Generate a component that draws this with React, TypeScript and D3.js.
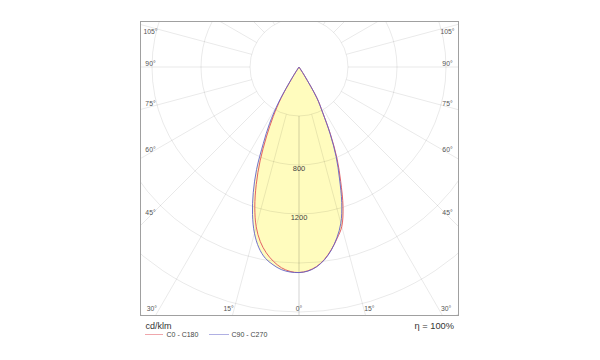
import React from "react";
import * as d3 from "d3";

// Gamma angles (degrees from nadir) and intensities (cd/klm)
const ANGLES = [0, 2.5, 5, 7.5, 10, 12.5, 15, 17.5, 20, 22.5, 25, 27.5, 30, 32.5, 35];
const C0 = [1678, 1665, 1636, 1585, 1515, 1435, 1349, 1195, 995, 814, 612, 418, 300, 80, 0];
const C180 = [1678, 1670, 1645, 1600, 1540, 1460, 1350, 1200, 1020, 830, 630, 455, 290, 70, 0];
const C90 = [1678, 1668, 1638, 1588, 1518, 1428, 1320, 1160, 965, 792, 600, 415, 290, 80, 0];
const C270 = [1678, 1675, 1660, 1628, 1585, 1512, 1405, 1262, 1092, 905, 690, 522, 330, 90, 0];

const RINGS = [400, 800, 1200, 1600, 2000, 2400];
const RING_LABELS = [800, 1200];
const SPOKES = d3.range(0, 181, 15);
const ANGLE_LABELS = [0, 15, 30, 45, 60, 75, 90, 105];

const W = 600;
const H = 360;
const FRAME = { x: 140.5, y: 21.5, w: 318, h: 294 };
const CX = 299;
const CY = 67;

const RED = "#e0505a";
const BLUE = "#6262c8";
const FILL = "#fffcbe";
const FONT = "'Liberation Sans', Arial, sans-serif";

const r = d3.scaleLinear().domain([0, 400]).range([0, 49]);
const rad = (deg: number) => (deg * Math.PI) / 180;

function curvePath(right: number[], left: number[]) {
  const pts: [number, number][] = [];
  for (let i = ANGLES.length - 1; i >= 0; i--) pts.push([Math.PI - rad(ANGLES[i]), r(right[i])]);
  for (let i = 1; i < ANGLES.length; i++) pts.push([Math.PI + rad(ANGLES[i]), r(left[i])]);
  const line = d3
    .lineRadial<[number, number]>()
    .angle((d) => d[0])
    .radius((d) => d[1])
    .curve(d3.curveCatmullRom.alpha(0.5));
  return line(pts) + "Z";
}

function labelPos(a: number, side: number): [number, number] {
  const halfW = 148.5;
  if (a <= 30) {
    const off = a === 0 ? 0 : Math.min(248 * Math.tan(rad(a)) + 4, halfW);
    return [CX + side * off, 309];
  }
  const y = Math.max(CY + halfW / Math.tan(rad(a)) - 3, 31.5);
  return [CX + side * halfW, y];
}

export default function App() {
  const redPath = curvePath(C0, C180);
  const bluePath = curvePath(C90, C270);
  const maxR = 400;
  return (
    <svg
      width={W}
      height={H}
      style={{ position: "absolute", left: 0, top: 0, background: "#fff" }}
      fontFamily={FONT}
    >
      <defs>
        <clipPath id="frameClip">
          <rect x={FRAME.x} y={FRAME.y} width={FRAME.w} height={FRAME.h} />
        </clipPath>
      </defs>
      <rect x={0} y={0} width={W} height={H} fill="#fff" />
      <g transform={`translate(${CX},${CY})`}>
        <path d={redPath} fill={FILL} stroke="none" />
        <path d={bluePath} fill={FILL} stroke="none" />
      </g>
      <g clipPath="url(#frameClip)" stroke="#000" strokeOpacity={0.11} strokeWidth={0.8} fill="none">
        {RINGS.map((v) => (
          <circle key={v} cx={CX} cy={CY} r={r(v)} />
        ))}
        {SPOKES.flatMap((a) =>
          [1, -1].map((s) => (
            <line
              key={`${a}_${s}`}
              x1={CX + s * r(400) * Math.sin(rad(a))}
              y1={CY + r(400) * Math.cos(rad(a))}
              x2={CX + s * maxR * Math.sin(rad(a))}
              y2={CY + maxR * Math.cos(rad(a))}
            />
          ))
        )}
      </g>
      <g transform={`translate(${CX},${CY})`} fill="none" strokeWidth={0.9}>
        <path d={redPath} stroke={RED} />
        <path d={bluePath} stroke={BLUE} />
      </g>
      {RING_LABELS.map((v) => (
        <text key={v} x={CX} y={CY + r(v) + 5.8} textAnchor="middle" fontSize={7.5} fill="#444">
          {v}
        </text>
      ))}
      {ANGLE_LABELS.flatMap((a) =>
        (a === 0 ? [1] : [-1, 1]).map((s) => {
          const [x, y] = labelPos(a, s);
          return (
            <text key={`${a}_${s}`} x={x} y={y} dy="0.35em" textAnchor="middle" fontSize={6.8} fill="#555">
              {`${a}°`}
            </text>
          );
        })
      )}
      <rect x={FRAME.x} y={FRAME.y} width={FRAME.w} height={FRAME.h} fill="none" stroke="#a0a0a0" strokeWidth={1} />
      <text x={145.5} y={328.5} fontSize={9} fill="#333">cd/klm</text>
      <text x={454} y={328.5} fontSize={9.3} fill="#333" textAnchor="end">η = 100%</text>
      <line x1={145} x2={163} y1={334.5} y2={334.5} stroke={RED} strokeOpacity={0.5} strokeWidth={1} />
      <text x={166.5} y={337} fontSize={7} fill="#444">C0 - C180</text>
      <line x1={209} x2={229} y1={334.5} y2={334.5} stroke={BLUE} strokeOpacity={0.5} strokeWidth={1} />
      <text x={231.5} y={337} fontSize={7} fill="#444">C90 - C270</text>
    </svg>
  );
}
